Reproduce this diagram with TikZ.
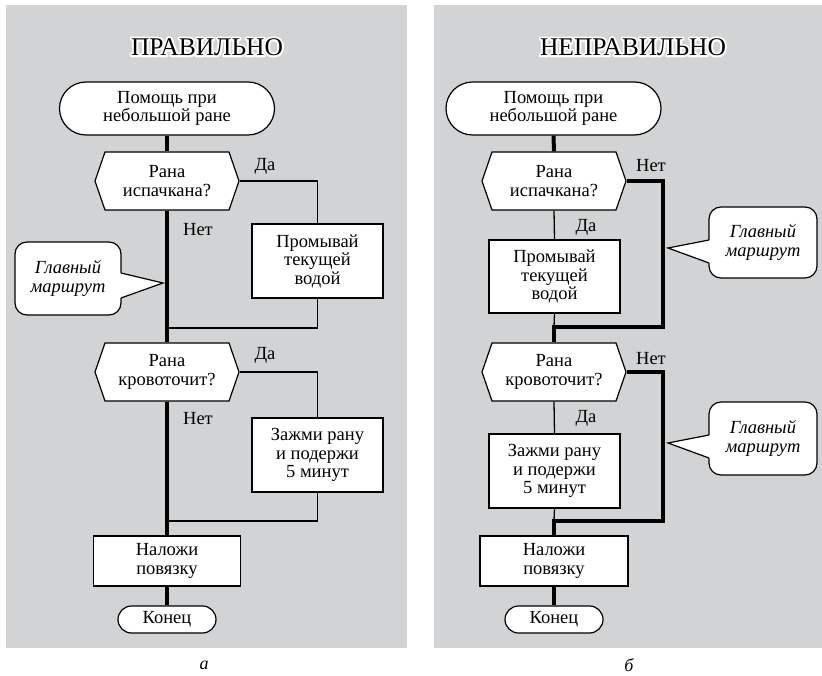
\documentclass[tikz,border=0pt]{standalone}
\usepackage{fontspec}
\setmainfont{Liberation Serif}
\usetikzlibrary{shapes.misc,shapes.symbols}
\definecolor{panel}{RGB}{209,211,212}
\newcommand\fs{\fontsize{18.5}{18.5}\selectfont}
\newcommand\tfs{\fontsize{25.5}{27}\selectfont}
\newcommand\haloed[1]{\rlap{\special{pdf:literal direct 1 1 1 RG 4 w 1 j 1 Tr}#1\special{pdf:literal direct 0 Tr 0 0 0 RG}}#1}
\tikzset{
 base/.style={draw=black, line width=1.2pt, fill=white, align=center, font=\fs, inner sep=0pt},
 term/.style={base, rounded rectangle},
 dec/.style={base, signal, signal to=west and east, signal pointer angle=142, minimum width=144pt, minimum height=58pt},
 proc/.style={base, rectangle},
 thinline/.style={line width=1.3pt},
 mainline/.style={line width=4pt},
 lbl/.style={font=\fs, inner sep=0pt},
 cbox/.style={draw, line width=1.2pt, fill=white, rounded corners=12pt, align=center, font=\fs\itshape, inner sep=0pt},
 ttl/.style={text=black, font=\tfs, inner sep=0pt},
}
\begin{document}
\begin{tikzpicture}[x=1pt,y=-1pt]
\useasboundingbox (0,0) rectangle (822,676);
\fill[white] (0,0) rectangle (822,676);
\fill[panel] (6,5) rectangle (407,648);
\fill[panel] (434,5) rectangle (822,648);
% titles
\node[ttl] (titleA) at (207,47) {\haloed{ПРАВИЛЬНО}};
\node[ttl] (titleB) at (633,47) {\haloed{НЕПРАВИЛЬНО}};

% ---------- left panel ----------
\node[term, minimum width=215pt, minimum height=53pt] (t1a) at (167,108.5) {Помощь при\\небольшой ране};
\node[dec] (d1a) at (167,181) {Рана\\испачкана?};
\node[proc, minimum width=131pt, minimum height=74pt] (b1a) at (317.5,261) {Промывай\\текущей\\водой};
\node[dec] (d2a) at (167,372) {Рана\\кровоточит?};
\node[proc, minimum width=131pt, minimum height=74pt] (b2a) at (317.5,455) {Зажми рану\\и подержи\\5 минут};
\node[proc, minimum width=147pt, minimum height=50pt] (b3a) at (167,561) {Наложи\\повязку};
\node[term, minimum width=98pt, minimum height=27pt] (t2a) at (167,619.5) {Конец};
\coordinate (j1a) at (167,328);
\coordinate (j2a) at (167,521);

\draw[mainline] (t1a.south) -- (d1a.north);
\draw[mainline] (d1a.south) -- (d2a.north);
\draw[mainline] (d2a.south) -- (b3a.north);
\draw[mainline] (b3a.south) -- (t2a.north);
\draw[thinline] (d1a.east) -| (b1a.north);
\draw[thinline] (b1a.south) |- (j1a);
\draw[thinline] (d2a.east) -| (b2a.north);
\draw[thinline] (b2a.south) |- (j2a);

\node[lbl] (yes1a) at (265,166) {Да};
\node[lbl] (no1a) at (198,230) {Нет};
\node[lbl] (yes2a) at (265,355) {Да};
\node[lbl] (no2a) at (198,419) {Нет};

\node[cbox, minimum width=106pt, minimum height=73pt] (c1a) at (68,278.5) {Главный\\маршрут};
\coordinate (tipa) at (163,283);
\fill[white] (tipa) -- (121,273) -- (118,273) -- (118,298) -- (121,298) -- cycle;
\draw[line width=1.2pt] (121,273) -- (tipa) -- (121,298);

% ---------- right panel ----------
\node[term, minimum width=215pt, minimum height=53pt] (t1b) at (553.5,108.5) {Помощь при\\небольшой ране};
\node[dec] (d1b) at (554,181) {Рана\\испачкана?};
\node[proc, minimum width=131pt, minimum height=73pt] (b1b) at (554.5,276.5) {Промывай\\текущей\\водой};
\node[dec] (d2b) at (554,372) {Рана\\кровоточит?};
\node[proc, minimum width=131pt, minimum height=74pt] (b2b) at (554.5,471) {Зажми рану\\и подержи\\5 минут};
\node[proc, minimum width=148pt, minimum height=50pt] (b3b) at (554,561) {Наложи\\повязку};
\node[term, minimum width=98pt, minimum height=27pt] (t2b) at (554,619.5) {Конец};
\coordinate (j1b) at (554,327);
\coordinate (j2b) at (554,521);
\coordinate (r1b) at (663,327);
\coordinate (r2b) at (663,521);

\draw[thinline] (d1b.south) -- (b1b.north);
\draw[thinline] (b1b.south) -- (j1b);
\draw[thinline] (d2b.south) -- (b2b.north);
\draw[thinline] (b2b.south) -- (j2b);
\draw[mainline] (t1b.south) -- (d1b.north);
\draw[mainline] (d1b.east) -| (r1b) -- (j1b) -- (d2b.north);
\draw[mainline] (d2b.east) -| (r2b) -- (j2b) -- (b3b.north);
\draw[mainline] (b3b.south) -- (t2b.north);

\node[lbl] (no1b) at (651,166) {Нет};
\node[lbl] (yes1b) at (586,227) {Да};
\node[lbl] (no2b) at (651,359) {Нет};
\node[lbl] (yes2b) at (586,418) {Да};

\node[cbox, minimum width=108pt, minimum height=71pt] (c1b) at (763,242.5) {Главный\\маршрут};
\coordinate (tipb) at (668,248);
\fill[white] (tipb) -- (709,240) -- (712,240) -- (712,263) -- (709,263) -- cycle;
\draw[line width=1.2pt] (709,240) -- (tipb) -- (709,263);

\node[cbox, minimum width=108pt, minimum height=73pt] (c2b) at (763,438.5) {Главный\\маршрут};
\coordinate (tipc) at (668,443);
\fill[white] (tipc) -- (709,435) -- (712,435) -- (712,458) -- (709,458) -- cycle;
\draw[line width=1.2pt] (709,435) -- (tipc) -- (709,458);

% captions
\node[font=\fontsize{18}{20}\selectfont\itshape, inner sep=0pt] (capa) at (204,665) {а};
\node[font=\fontsize{18}{20}\selectfont\itshape, inner sep=0pt] (capb) at (629,665) {б};
\end{tikzpicture}
\end{document}
